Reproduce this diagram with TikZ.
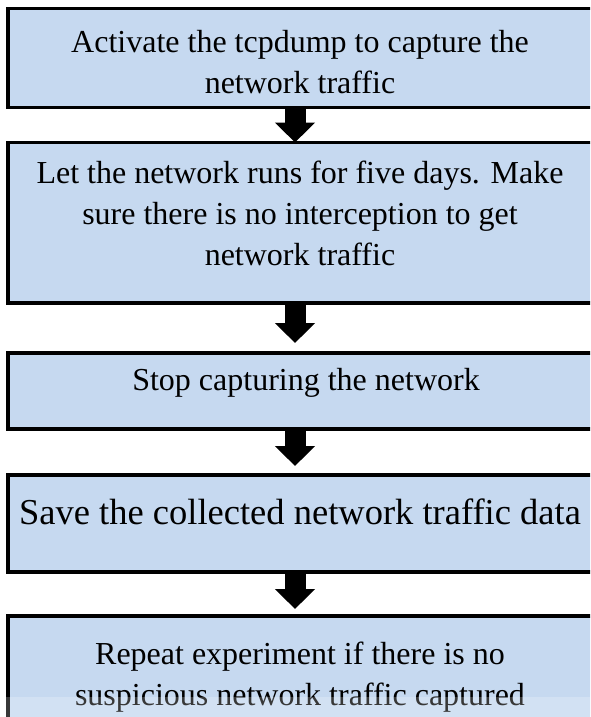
\documentclass[tikz,border=0pt]{standalone}
\usepackage{fontspec}
\setmainfont{Liberation Serif}
\usetikzlibrary{arrows.meta,calc}
\definecolor{boxfill}{HTML}{C6D9F0}
\tikzset{
  stepbox/.style={draw=black, line width=3.5pt, fill=boxfill, rectangle,
    anchor=north west, minimum width=590pt, inner sep=0pt, outer sep=0pt},
  steptext/.style={align=center, inner sep=0pt, anchor=base,
    font=\fontsize{32}{41}\selectfont},
  blockarrow/.style={draw=black, line width=21pt,
    -{Triangle[width=39pt,length=20pt]}}
}
\begin{document}
\begin{tikzpicture}[x=1pt,y=-1pt]
\useasboundingbox (0,0) rectangle (590,717);
\clip (0,0) rectangle (590,717);

% process boxes
\node[stepbox, minimum height=99pt]    (b1) at (8,8.5) {};
\node[stepbox, minimum height=160.5pt] (b2) at (8,142.5) {};
\node[stepbox, minimum height=76pt]    (b3) at (8,353) {};
\node[stepbox, minimum height=97pt]    (b4) at (8,475) {};
\node[stepbox, minimum height=144pt]   (b5) at (8,616) {};

% step texts (placed at the baseline of their last line)
\node[steptext] (t1) at (300,93) {Activate the tcpdump to capture the\\network traffic};
\node[steptext] (t2) at (300,265) {Let the network runs for five days. Make\\sure there is no interception to get\\network traffic};
\node[steptext] (t3) at (306,390) {Stop capturing the network};
\node[steptext, font=\fontsize{36.5}{41}\selectfont] (t4) at (300,524) {Save the collected network traffic data};
\node[steptext] (t5) at (300,705) {Repeat experiment if there is no\\suspicious network traffic captured};

% flow arrows
\coordinate (ax) at (295,0);
\draw[blockarrow] (b1.south -| ax) -- (b2.north -| ax);
\draw[blockarrow, shorten >=10pt] (b2.south -| ax) -- (b3.north -| ax);
\draw[blockarrow, shorten >=9pt] (b3.south -| ax) -- (b4.north -| ax);
\draw[blockarrow, shorten >=7pt] (b4.south -| ax) -- (b5.north -| ax);

% pale band along the lower edge
\fill[white, opacity=0.22] (0,697) rectangle (590,717);
\end{tikzpicture}
\end{document}
